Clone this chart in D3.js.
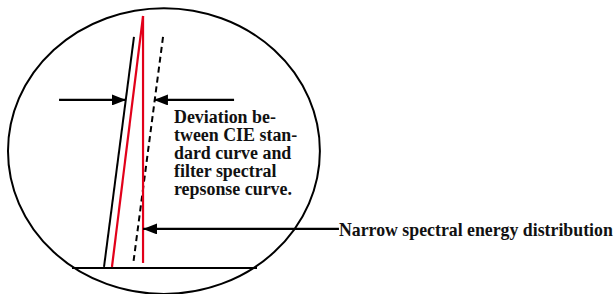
<!DOCTYPE html>
<html><head><meta charset="utf-8">
<script src="https://cdn.jsdelivr.net/npm/d3@7"></script>
<style>html,body{margin:0;padding:0;background:#fff;}svg{display:block;}</style>
</head><body>
<svg id="c" width="615" height="294"></svg>
<script>
// Data (schematic units: x = relative wavelength 0..100, y = relative response 0..100)
const blackCurve = [[17.3, 0.4], [33.5, 91.7]];          // CIE standard curve
const redSlant   = [[21.6, 0.4], [38.4, 100]];           // narrow distribution rising edge
const redVertical= [[38.4, 100], [38.4, 2.0]];           // narrow distribution falling edge
const dashedCurve= [[49.2, 91.7], [33.0, 1.2]];          // filter spectral response
const baseline   = [[0, 0], [100, 0]];
const leftArrow  = [[-7.0, 66.7], [29.2, 66.7]];
const rightArrow = [[87.6, 66.7], [44.3, 66.7]];
const bottomArrow= [[144.3, 15.5], [38.4, 15.5]];
const lensEllipse= {cx: 49.7, cy: 46.4, rx: 84.3, ry: 56.7};
const deviationLabel = ["Deviation be-", "tween CIE stan-", "dard curve and", "filter spectral", "repsonse curve."];
const narrowLabel = "Narrow spectral energy distribution";

const svg = d3.select("#c");
const x = d3.scaleLinear().domain([0, 100]).range([72, 257]);
const y = d3.scaleLinear().domain([0, 100]).range([268, 16]);
const line = d3.line().x(d => x(d[0])).y(d => y(d[1]));

const defs = svg.append("defs");
defs.append("marker").attr("id", "ah").attr("viewBox", "0 0 14 11")
  .attr("refX", 14).attr("refY", 5.5).attr("markerWidth", 14).attr("markerHeight", 11)
  .attr("markerUnits", "userSpaceOnUse").attr("orient", "auto")
  .append("path").attr("d", "M0,0L14,5.5L0,11Z").attr("fill", "#000");

// ellipse
svg.append("ellipse")
  .attr("cx", x(lensEllipse.cx)).attr("cy", y(lensEllipse.cy))
  .attr("rx", x(lensEllipse.rx) - x(0)).attr("ry", y(0) - y(lensEllipse.ry))
  .attr("fill", "none").attr("stroke", "#000").attr("stroke-width", 2);

svg.append("path").datum(baseline).attr("d", line)
  .attr("fill", "none").attr("stroke", "#000").attr("stroke-width", 2.2);

svg.append("path").datum(blackCurve).attr("d", line)
  .attr("fill", "none").attr("stroke", "#000").attr("stroke-width", 2);
svg.append("path").datum(dashedCurve).attr("d", line)
  .attr("fill", "none").attr("stroke", "#000").attr("stroke-width", 2).attr("stroke-dasharray", "6,4");
svg.append("path").datum(redSlant).attr("d", line)
  .attr("fill", "none").attr("stroke", "#e2001a").attr("stroke-width", 2.2);
svg.append("path").datum(redVertical).attr("d", line)
  .attr("fill", "none").attr("stroke", "#e2001a").attr("stroke-width", 2.2);

[leftArrow, rightArrow, bottomArrow].forEach(a => {
  svg.append("path").datum(a).attr("d", line)
    .attr("fill", "none").attr("stroke", "#000").attr("stroke-width", 2.2)
    .attr("marker-end", "url(#ah)");
});

const font = "'Liberation Serif', serif";
const t = svg.append("text").attr("font-family", font).attr("font-weight", "bold")
  .attr("font-size", 17.9).attr("fill", "#111");
t.selectAll("tspan").data(deviationLabel).join("tspan")
  .attr("x", 174).attr("y", (d, i) => 123 + i * 18).text(d => d);

svg.append("text").attr("font-family", font).attr("font-weight", "bold")
  .attr("font-size", 17.8).attr("fill", "#111")
  .attr("x", 339).attr("y", 236).text(narrowLabel);
</script>
</body></html>
